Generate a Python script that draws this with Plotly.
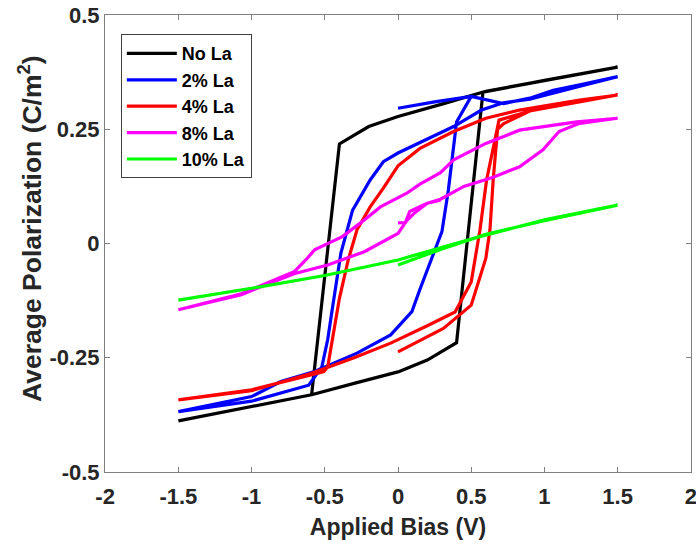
import plotly.graph_objects as go

# ---- data ----
no_la_v = [0, 0.2, 0.4, 0.58, 1.0, 1.5, 1.0, 0.6, 0.3, 0.0, -0.2, -0.4, -0.59, -1.0, -1.5, -1.0, -0.59, -0.3, 0.0]
no_la_p = [-0.281, -0.255, -0.217, 0.331, 0.357, 0.386, 0.357, 0.333, 0.305, 0.278, 0.256, 0.218, -0.331, -0.357, -0.388, -0.357, -0.331, -0.306, -0.281]

la2_v = [0.0, 0.25, 0.5, 0.72, 0.9, 1.06, 1.25, 1.5, 1.25, 1.06, 0.9, 0.72, 0.57, 0.38, 0.15, 0.0, -0.1, -0.19, -0.31, -0.39, -0.45, -0.48, -0.52, -0.61,
         -1.0, -1.5, -1.0, -0.8, -0.57, -0.28, -0.05, 0.095, 0.15, 0.22, 0.30, 0.344, 0.40, 0.5]
la2_p = [0.296, 0.31, 0.322, 0.306, 0.318, 0.335, 0.348, 0.365, 0.345, 0.33, 0.316, 0.308, 0.292, 0.256, 0.222, 0.198, 0.179, 0.139, 0.073, -0.021, -0.146, -0.21, -0.27, -0.31,
         -0.345, -0.368, -0.335, -0.302, -0.28, -0.24, -0.20, -0.149, -0.10, -0.043, 0.026, 0.117, 0.266, 0.322]

la4_v = [0.0, 0.31, 0.5, 0.6, 0.628, 0.65, 0.68, 0.72, 0.9, 1.5, 1.24, 0.83, 0.6, 0.38, 0.15, 0.0, -0.1, -0.19, -0.28, -0.34, -0.40, -0.48, -0.506, -0.6,
         -1.0, -1.5, -1.0, -0.6, -0.3, -0.05, 0.2, 0.39, 0.5, 0.56, 0.605, 0.69, 0.85, 1.0, 1.5]
la4_p = [-0.237, -0.186, -0.135, -0.032, 0.03, 0.139, 0.25, 0.262, 0.29, 0.325, 0.314, 0.292, 0.274, 0.245, 0.208, 0.17, 0.121, 0.08, 0.03, -0.036, -0.12, -0.27, -0.28, -0.288,
         -0.32, -0.342, -0.322, -0.285, -0.25, -0.218, -0.18, -0.15, -0.084, 0.03, 0.139, 0.27, 0.285, 0.30, 0.325]

la8_v = [0.0, 0.05, 0.08, 0.11, 0.2, 0.29, 0.45, 0.65, 0.83, 0.99, 1.10, 1.24, 1.5, 1.22, 1.06, 0.83, 0.6, 0.38, 0.29, 0.15, 0.06, -0.12, -0.26, -0.38, -0.57, -0.63, -0.71, -1.07, -1.5,
         -1.07, -0.71, -0.48, -0.23, 0.0, 0.06, 0.11, 0.2, 0.29]
la8_p = [0.045, 0.046, 0.07, 0.075, 0.088, 0.097, 0.125, 0.145, 0.168, 0.205, 0.245, 0.263, 0.274, 0.266, 0.259, 0.248, 0.219, 0.183, 0.155, 0.13, 0.11, 0.08, 0.044, 0.015, -0.014, -0.036, -0.062, -0.11, -0.145,
         -0.112, -0.066, -0.047, -0.018, 0.022, 0.05, 0.066, 0.088, 0.095]

la10_v = [0.0, 0.3, 0.6, 1.0, 1.5, 1.0, 0.5, 0.0, -0.5, -1.0, -1.5, -1.0, -0.5, 0.0]
la10_p = [-0.047, -0.012, 0.02, 0.05, 0.084, 0.052, 0.01, -0.036, -0.07, -0.098, -0.124, -0.098, -0.07, -0.036]

series = [
    ("No La", no_la_v, no_la_p, "#000000"),
    ("2% La", la2_v, la2_p, "#0000FF"),
    ("4% La", la4_v, la4_p, "#FF0000"),
    ("8% La", la8_v, la8_p, "#FF00FF"),
    ("10% La", la10_v, la10_p, "#00FF00"),
]

x_ticks = [-2, -1.5, -1, -0.5, 0, 0.5, 1, 1.5, 2]
x_ticktext = ["-2", "-1.5", "-1", "-0.5", "0", "0.5", "1", "1.5", "2"]
y_ticks = [-0.5, -0.25, 0, 0.25, 0.5]
y_ticktext = ["-0.5", "-0.25", "0", "0.25", "0.5"]

FONT = "Liberation Sans"
TXT = "#262626"

fig = go.Figure()
for name, v, p, c in series:
    fig.add_trace(go.Scatter(x=v, y=p, mode="lines", name="<b>" + name + "</b>",
                             line=dict(color=c, width=3.2)))

axis_common = dict(showline=True, linecolor="#808080", linewidth=1, mirror="ticks",
                   ticks="inside", ticklen=5, tickcolor="#808080", tickwidth=1,
                   showgrid=False, zeroline=False, automargin=False,
                   ticklabeloverflow="allow",
                   tickfont=dict(family=FONT, size=22, color=TXT, weight="bold"))

fig.update_layout(
    width=696, height=544,
    margin=dict(l=105, r=5, t=15, b=72),
    paper_bgcolor="white", plot_bgcolor="white",
    font=dict(family=FONT, color=TXT),
    xaxis=dict(range=[-2.001, 2.001], tickvals=x_ticks, ticktext=x_ticktext,
               ticklabelstandoff=5,
               title=dict(text="<b>Applied Bias (V)</b>", font=dict(family=FONT, size=23, color=TXT), standoff=10),
               **axis_common),
    yaxis=dict(range=[-0.5, 0.5], tickvals=y_ticks, ticktext=y_ticktext,
               **axis_common),
    legend=dict(x=0.027, y=0.958, xanchor="left", yanchor="top",
                bgcolor="white", bordercolor="#404040", borderwidth=1,
                font=dict(family=FONT, size=18, color="#000000"),
                itemwidth=50, tracegroupgap=0),
    showlegend=True,
    annotations=[dict(text="<b>Average Polarization (C/m<sup>2</sup>)</b>",
                      xref="paper", yref="paper", x=-(105 - 30) / 586, y=0.532,
                      xanchor="center", yanchor="middle", textangle=-90, showarrow=False,
                      font=dict(family=FONT, size=26.5, color=TXT))],
)

fig.write_html("out.html")
